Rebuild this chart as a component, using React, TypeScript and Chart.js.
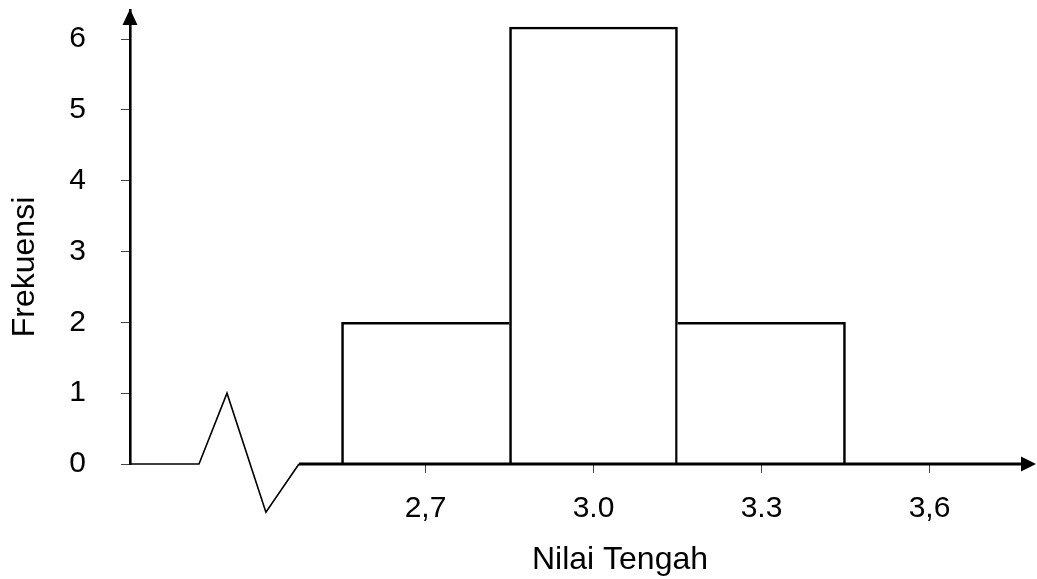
import React, { useEffect, useRef } from 'react';
import { Chart, registerables } from 'chart.js';

Chart.register(...registerables);

// ---- data ----
const binMidpoints = [2.7, 3.0, 3.3];
const frequencies = [2, 6.17, 2];
const xTickValues = [2.7, 3.0, 3.3, 3.6];
const xTickLabels = ['2,7', '3.0', '3.3', '3,6'];
const yTickValues = [0, 1, 2, 3, 4, 5, 6];
const breakX = [2.1723, 2.2955, 2.3455, 2.415, 2.474];
const breakY = [0, 0, 1, -0.68, 0];
const xTitle = 'Nilai Tengah';
const yTitle = 'Frekuensi';
const X_MIN = 2.1723;
const X_MAX = 3.7902;
const Y_MIN = 0;
const Y_MAX = 6.41;

const FONT = '"Liberation Sans", Arial, Helvetica, sans-serif';
const EDGE = 2.6;

const axisDecor = {
  id: 'axisDecor',
  afterDatasetsDraw(chart: any) {
    const { ctx, chartArea, scales } = chart;
    const x = scales.x;
    const y = scales.y;
    const y0 = y.getPixelForValue(0);
    const xs = x.getPixelForValue(breakX[breakX.length - 1]);
    ctx.save();
    ctx.strokeStyle = '#000';
    ctx.fillStyle = '#000';
    ctx.lineWidth = 3;
    ctx.beginPath();
    ctx.moveTo(xs, y0);
    ctx.lineTo(chartArea.right - 10, y0);
    ctx.stroke();
    // x arrow head
    ctx.beginPath();
    ctx.moveTo(chartArea.right, y0);
    ctx.lineTo(chartArea.right - 15, y0 - 7.5);
    ctx.lineTo(chartArea.right - 15, y0 + 7.5);
    ctx.closePath();
    ctx.fill();
    // y arrow head
    const xa = chartArea.left;
    ctx.beginPath();
    ctx.moveTo(xa, chartArea.top - 1);
    ctx.lineTo(xa - 7.5, chartArea.top + 15);
    ctx.lineTo(xa + 7.5, chartArea.top + 15);
    ctx.closePath();
    ctx.fill();
    // axis titles
    ctx.font = '32px ' + FONT;
    ctx.textAlign = 'center';
    ctx.textBaseline = 'middle';
    ctx.fillText(xTitle, 620, 560);
    ctx.translate(25, 267);
    ctx.rotate(-Math.PI / 2);
    ctx.fillText(yTitle, 0, 0);
    ctx.restore();
  },
};

export default function App() {
  const canvasRef = useRef<HTMLCanvasElement | null>(null);

  useEffect(() => {
    const canvas = canvasRef.current;
    if (!canvas) return;
    const lastIdx = frequencies.length - 1;
    const chart = new Chart(canvas, {
      type: 'bar',
      data: {
        datasets: [
          {
            type: 'bar',
            data: binMidpoints.map((v, i) => ({ x: v, y: frequencies[i] })),
            backgroundColor: '#ffffff',
            borderColor: '#000000',
            // a shared edge is drawn once, by the taller neighbour
            borderWidth: (c: any) => {
              const i = c.dataIndex;
              const h = frequencies[i];
              const left = i === 0 || h >= frequencies[i - 1] ? EDGE : 0;
              const right = i === lastIdx || h > frequencies[i + 1] ? EDGE : 0;
              return { top: EDGE, left, right, bottom: 0 };
            },
            borderSkipped: false,
            barPercentage: 1,
            categoryPercentage: 1,
          } as any,
          {
            type: 'line',
            data: breakX.map((v, i) => ({ x: v, y: breakY[i] })),
            borderColor: '#000000',
            borderWidth: 1.6,
            pointRadius: 0,
            fill: false,
            tension: 0,
            clip: false,
          } as any,
        ],
      },
      options: {
        animation: false,
        responsive: false,
        layout: { padding: { top: 10, right: 1, left: 0, bottom: 0 } },
        plugins: {
          legend: { display: false },
          tooltip: { enabled: false },
        },
        scales: {
          x: {
            type: 'linear',
            min: X_MIN,
            max: X_MAX,
            offset: false,
            border: { display: false },
            grid: {
              display: true,
              offset: false,
              drawOnChartArea: false,
              drawTicks: true,
              tickLength: 9,
              color: '#444',
              lineWidth: 1,
            },
            ticks: {
              color: '#000',
              font: { family: FONT, size: 30 },
              padding: 18,
              maxRotation: 0,
              autoSkip: false,
              callback: (value: any) => {
                const idx = xTickValues.findIndex((t) => Math.abs(t - Number(value)) < 1e-6);
                return idx >= 0 ? xTickLabels[idx] : '';
              },
            },
            afterBuildTicks: (scale: any) => {
              scale.ticks = xTickValues.map((v) => ({ value: v }));
            },
            afterFit: (scale: any) => {
              scale.height = 115;
              scale.paddingLeft = 0;
              scale.paddingRight = 0;
            },
          },
          y: {
            type: 'linear',
            min: Y_MIN,
            max: Y_MAX,
            border: { display: true, color: '#000', width: 2.6 },
            grid: {
              display: true,
              drawOnChartArea: false,
              drawTicks: true,
              tickLength: 9,
              color: '#444',
              lineWidth: 1,
            },
            ticks: {
              color: '#000',
              font: { family: FONT, size: 30 },
              padding: 35,
              includeBounds: false,
              callback: (value: any) => String(value),
            },
            afterBuildTicks: (scale: any) => {
              scale.ticks = yTickValues.map((v) => ({ value: v }));
            },
            afterFit: (scale: any) => {
              scale.width = 130;
              scale.paddingTop = 0;
              scale.paddingBottom = 0;
            },
          },
        },
      },
      plugins: [axisDecor],
    } as any);
    return () => chart.destroy();
  }, []);

  return (
    <div style={{ position: 'absolute', left: 0, top: 0, width: 1037, height: 579, background: '#fff' }}>
      <canvas ref={canvasRef} width={1037} height={579} style={{ display: 'block' }} />
    </div>
  );
}
